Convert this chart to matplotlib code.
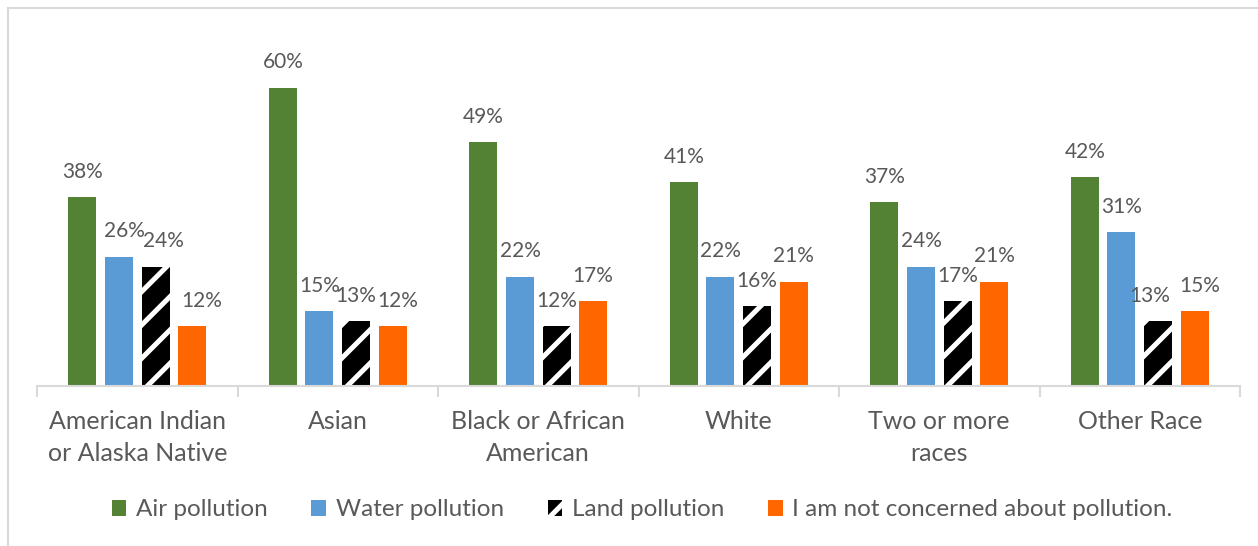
import matplotlib
matplotlib.use("Agg")
import matplotlib.pyplot as plt
from matplotlib.lines import Line2D
import numpy as np

categories = ["American Indian\nor Alaska Native", "Asian", "Black or African\nAmerican",
              "White", "Two or more\nraces", "Other Race"]
series_names = ["Air pollution", "Water pollution", "Land pollution",
                "I am not concerned about pollution."]
air = [38, 60, 49, 41, 37, 42]
water = [26, 15, 22, 22, 24, 31]
land = [24, 13, 12, 16, 17, 13]
not_concerned = [12, 12, 17, 21, 21, 15]

plt.rcParams['font.family'] = ['Lato', 'DejaVu Sans']
plt.rcParams['hatch.linewidth'] = 3.6

fig = plt.figure(figsize=(12.58, 5.46), dpi=100)
ax = fig.add_axes([37/1258, 160/546, (1240-37)/1258, 348/546])

x = np.arange(len(categories))
width = 0.14
step = 0.1825
colors = ["#548235", "#5b9bd5", "black", "#ff6600"]
data = [air, water, land, not_concerned]
txt_col = "#595959"

# small label nudges (points) to avoid overlapping labels, as in the reference
nudge = {(1, 0): 4, (2, 0): 6, (3, 0): 7, (3, 1): 4, (2, 5): -6, (3, 5): 4}

for i, (vals, name, col) in enumerate(zip(data, series_names, colors)):
    pos = x + (i - 1.5) * step
    if i == 2:
        bars = ax.bar(pos, vals, width, facecolor="black", edgecolor="white",
                      hatch="/", linewidth=0, label=name)
    else:
        bars = ax.bar(pos, vals, width, color=col, linewidth=0, label=name)
    for j, (b, v) in enumerate(zip(bars, vals)):
        ax.annotate(f"{v}%", (b.get_x() + b.get_width() / 2, v),
                    xytext=(nudge.get((i, j), 0), 11), textcoords="offset points",
                    ha="center", va="bottom", fontsize=15, color=txt_col)

ax.set_xlim(-0.5, len(categories) - 0.5)
ax.set_ylim(0, 70)
ax.set_yticks([])
for s in ["top", "right", "left"]:
    ax.spines[s].set_visible(False)
ax.spines["bottom"].set_color("#d9d9d9")
ax.spines["bottom"].set_linewidth(1.5)

ax.set_xticks(np.arange(len(categories) + 1) - 0.5, minor=False)
ax.set_xticklabels([])
ax.tick_params(axis="x", which="major", length=8, color="#d9d9d9", width=1.5)
ax.set_xticks(x, minor=True)
ax.set_xticklabels(categories, minor=True, fontsize=18, color=txt_col, linespacing=1.5,
                   va="top")
ax.tick_params(axis="x", which="minor", length=0, pad=17)

leg = ax.legend(loc="center", bbox_to_anchor=(0.503, -124/348), ncol=4, frameon=False,
                fontsize=17.5, handlelength=0.6, handleheight=0.6, columnspacing=1.8,
                handletextpad=0.4, labelcolor=txt_col)

# chart area border (only top and left edges visible in the reference)
fig.add_artist(Line2D([7.5/1258, 1], [1 - 7.5/546, 1 - 7.5/546], transform=fig.transFigure,
                      color="#d9d9d9", linewidth=1.5))
fig.add_artist(Line2D([7.5/1258, 7.5/1258], [0, 1 - 7.5/546], transform=fig.transFigure,
                      color="#d9d9d9", linewidth=1.5))

fig.savefig("out.png", dpi=100)
